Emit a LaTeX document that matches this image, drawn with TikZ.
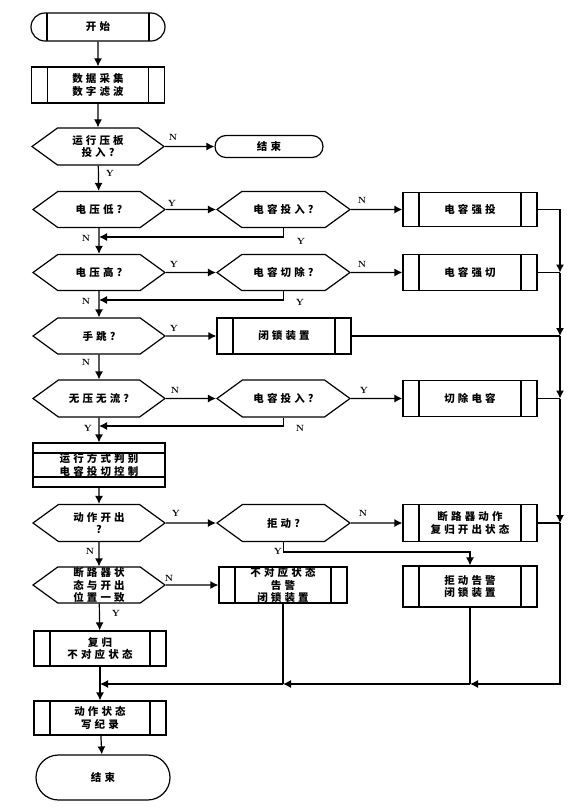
\documentclass[tikz,border=0pt]{standalone}
\usepackage{fontspec}
\newfontfamily\cjk{Noto Sans CJK SC}[LetterSpace=30]
\usepackage{tikz}
\usetikzlibrary{shapes,positioning,calc}
\usetikzlibrary{arrows.meta}
\tikzstyle{base} = [draw=black, line width=1.2pt, inner sep=0pt, align=center,
font=\cjk\bfseries\fontsize{10.5}{12.5}\selectfont]
\tikzstyle{term} = [base, rounded rectangle, minimum width=134pt, minimum height=28pt]
\tikzstyle{judge} = [base, signal, signal to=east and west, signal pointer angle=72,
minimum width=132pt, minimum height=36pt]
\tikzstyle{proc} = [base, rectangle, minimum width=134pt, minimum height=36pt,
path picture={\draw[line width=1.2pt]
([xshift=16pt]path picture bounding box.north west) -- ([xshift=16pt]path picture bounding box.south west)
([xshift=-16pt]path picture bounding box.north east) -- ([xshift=-16pt]path picture bounding box.south east);}]
\tikzstyle{band} = [base, rectangle, minimum width=132pt, minimum height=44pt,
path picture={\draw[line width=1.2pt]
([yshift=-10pt]path picture bounding box.north west) -- ([yshift=-10pt]path picture bounding box.north east)
([yshift=10pt]path picture bounding box.south west) -- ([yshift=10pt]path picture bounding box.south east);}]
\tikzstyle{arrow} = [line width=1.2pt, -{Latex[length=8pt,width=8pt]}]
\tikzstyle{line} = [line width=1.2pt]
\tikzstyle{yn} = [inner sep=0pt, font=\bfseries\small]

\begin{document}
\begin{tikzpicture}[x=1pt, y=-1pt]
\useasboundingbox (0,0) rectangle (579,812);
% main column
\node (start) at (98,27) [term, path picture={\draw[line width=1.2pt]
([xshift=16pt]path picture bounding box.north west) -- ([xshift=16pt]path picture bounding box.south west)
([xshift=-16pt]path picture bounding box.north east) -- ([xshift=-16pt]path picture bounding box.south east);}] {开始};
\node (collect) at (98,85) [proc, minimum width=133pt] {数据采集\\数字滤波};
\node (board) at (98,146.5) [judge, minimum height=37pt] {运行压板\\投入?};
\node (end1) at (269,146.5) [term, minimum width=108pt, minimum height=22pt] {结束};
\node (low) at (99,209.5) [judge] {电压低?};
\node (capin1) at (283.5,209.5) [judge, minimum width=133pt] {电容投入?};
\node (forcein) at (470,209.5) [proc, minimum height=34pt] {电容强投};
\node (high) at (99,272.5) [judge] {电压高?};
\node (capout) at (283.5,272.5) [judge, minimum width=133pt] {电容切除?};
\node (forceout) at (470,272.5) [proc] {电容强切};
\node (manual) at (99,336) [judge] {手跳?};
\node (lockdev) at (284,336) [proc] {闭锁装置};
\node (nopower) at (99,398.5) [judge, minimum height=37pt] {无压无流?};
\node (capin2) at (283.5,398.5) [judge, minimum width=133pt, minimum height=37pt] {电容投入?};
\node (cutcap) at (470,398.5) [proc] {切除电容};
\node (mode) at (99,465) [band] {运行方式判别\\电容投切控制};
\node (act) at (99,523) [judge, minimum height=37pt] {动作开出\\?};
\node (refuse) at (283.5,523) [judge, minimum width=133pt, minimum height=37pt] {拒动?};
\node (reset1) at (470,523) [proc, minimum height=37pt] {断路器动作\\复归开出状态};
\node (state) at (99,585) [judge] {断路器状\\态与开出\\位置一致};
\node (mismatch) at (283,585) [proc, minimum width=128pt] {不对应状态\\告警\\闭锁装置};
\node (refalarm) at (470,586.5) [proc, minimum height=41pt] {拒动告警\\闭锁装置};
\node (reset2) at (100,648.5) [proc, minimum width=132pt, minimum height=35pt] {复归\\不对应状态};
\node (record) at (100,718) [proc, minimum width=132pt, minimum height=34pt] {动作状态\\写纪录};
\node (end2) at (103,777.5) [term, minimum height=45pt] {结束};
% junctions
\coordinate (m1) at (99,237);
\coordinate (m2) at (99,300);
\coordinate (m3) at (99,426);
\coordinate (r1) at (283.5,552);
\coordinate (j1) at (560,272.5);
\coordinate (j2) at (560,336);
\coordinate (j3) at (560,398.5);
\coordinate (j4) at (560,523);
\coordinate (j5) at (560,684);
\coordinate (k1) at (470,684);
\coordinate (k2) at (283,684);
\coordinate (k3) at (100,684);
% Y / N
\node[yn] (n0) at (173,137) {N};
\node[yn] (y0) at (110,173) {Y};
\node[yn] (y1) at (172,203) {Y};
\node[yn] (n1) at (362,200) {N};
\node[yn] (y2) at (301,241) {Y};
\node[yn] (n2) at (86,238) {N};
\node[yn] (y3) at (174,264) {Y};
\node[yn] (n3) at (362,264) {N};
\node[yn] (y4) at (300,302) {Y};
\node[yn] (n4) at (86,301) {N};
\node[yn] (y5) at (174,328) {Y};
\node[yn] (n5) at (86,362) {N};
\node[yn] (n6) at (175,390) {N};
\node[yn] (y6) at (364,390) {Y};
\node[yn] (n7) at (300,428) {N};
\node[yn] (y7) at (88,428) {Y};
\node[yn] (y8) at (176,513) {Y};
\node[yn] (n8) at (363,513) {N};
\node[yn] (y9) at (278,551) {Y};
\node[yn] (n9) at (90,551) {N};
\node[yn] (n10) at (169,578) {N};
\node[yn] (y10) at (116,613) {Y};
% connectors
\draw[arrow] (start) -- (collect);
\draw[arrow] (collect) -- (board);
\draw[arrow] (board) -- (end1);
\draw[arrow] (board) -- (low);
\draw[arrow] (low) -- (capin1);
\draw[arrow] (capin1) -- (forcein);
\draw[arrow] (capin1.south) |- (m1);
\draw[arrow] (low) -- (high);
\draw[arrow] (high) -- (capout);
\draw[arrow] (capout) -- (forceout);
\draw[arrow] (capout.south) |- (m2);
\draw[arrow] (high) -- (manual);
\draw[arrow] (manual) -- (lockdev);
\draw[arrow] (manual) -- (nopower);
\draw[arrow] (nopower) -- (capin2);
\draw[arrow] (capin2) -- (cutcap);
\draw[arrow] (capin2.south) |- (m3);
\draw[arrow] (nopower) -- (mode);
\draw[arrow] (mode) -- (act);
\draw[arrow] (act) -- (refuse);
\draw[arrow] (refuse) -- (reset1);
\draw[arrow] (refuse.south) -- (r1) -| (refalarm.north);
\draw[arrow] (act) -- (state);
\draw[arrow] (state) -- (mismatch);
\draw[arrow] (state) -- (reset2);
\draw[arrow] (reset2) -- (record);
\draw[arrow] (record) -- (end2);
% right bus
\draw[arrow] (forcein) -| (j1);
\draw[line] (forceout) -- (j1);
\draw[arrow] (j1) -- (j2);
\draw[line] (lockdev) -- (j2);
\draw[arrow] (j2) -- (j3);
\draw[line] (cutcap) -- (j3);
\draw[arrow] (j3) -- (j4);
\draw[line] (reset1) -- (j4);
\draw[arrow] (j4) -- (j5) -- (k1);
\draw[line] (refalarm) -- (k1);
\draw[arrow] (k1) -- (k2);
\draw[line] (mismatch) -- (k2);
\draw[arrow] (k2) -- (k3);
\end{tikzpicture}
\end{document}
